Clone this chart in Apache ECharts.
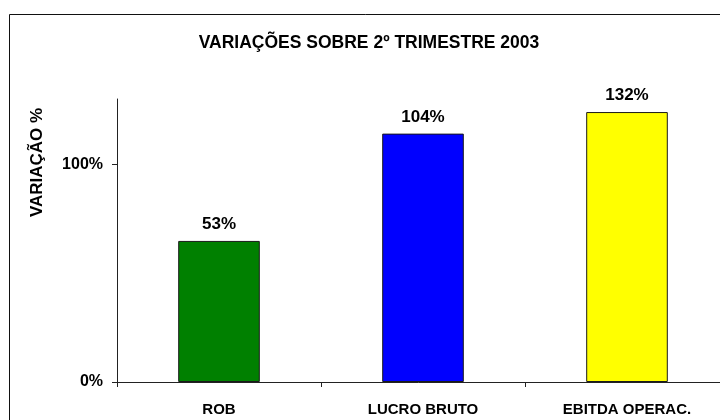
<!DOCTYPE html>
<html>
<head>
<meta charset="utf-8">
<script src="https://cdn.jsdelivr.net/npm/echarts@6/dist/echarts.min.js"></script>
<style>
  html, body { margin: 0; padding: 0; background: #fff; }
  #chart { width: 720px; height: 420px; }
</style>
</head>
<body>
<div id="chart"></div>
<script>
// dados
const categorias = ['ROB', 'LUCRO BRUTO', 'EBITDA OPERAC.'];
const valores = [64.8, 114.1, 124.0];
const rotulos = ['53%', '104%', '132%'];
const cores = ['#008000', '#0000FF', '#FFFF00'];
const ticksY = [0, 100];

const fonte = '"Liberation Sans", Arial, sans-serif';

const chart = echarts.init(document.getElementById('chart'));

chart.setOption({
    animation: false,
    backgroundColor: '#fff',
    title: {
        text: 'VARIAÇÕES SOBRE 2º TRIMESTRE 2003',
        left: 364,
        textAlign: 'center',
        top: 29,
        textStyle: { fontFamily: fonte, fontWeight: 'bold', fontSize: 17.5, color: '#000' }
    },
    graphic: [
        {
            // moldura do gráfico
            type: 'rect',
            shape: { x: 9.5, y: 14.5, width: 760, height: 460 },
            style: { fill: 'none', stroke: '#111', lineWidth: 1 },
            z: -1
        },
        {
            type: 'text',
            x: 37.5,
            y: 162.5,
            rotation: Math.PI / 2,
            style: {
                text: 'VARIAÇÃO %',
                font: 'bold 17px ' + fonte,
                fill: '#000',
                textAlign: 'center',
                textVerticalAlign: 'middle'
            }
        }
    ],
    // a área do gráfico passa um pouco da borda direita
    grid: {
        left: 117, width: 612, top: 99, bottom: 38,
        containLabel: false, outerBoundsMode: 'none'
    },
    xAxis: {
        type: 'category',
        data: categorias,
        axisLine: { lineStyle: { color: '#222', width: 1 } },
        axisTick: { show: true, length: 5, lineStyle: { color: '#222' } },
        axisLabel: {
            margin: 20,
            fontFamily: fonte, fontWeight: 'bold', fontSize: 15, color: '#000'
        }
    },
    yAxis: {
        type: 'value',
        min: 0,
        max: 130,
        interval: 100,
        splitLine: { show: false },
        axisLine: { show: true, lineStyle: { color: '#222', width: 1 } },
        axisTick: { show: true, length: 5, customValues: ticksY, lineStyle: { color: '#222' } },
        axisLabel: {
            customValues: ticksY,
            margin: 14,
            formatter: v => v + '%',
            fontFamily: fonte, fontWeight: 'bold', fontSize: 16, color: '#000'
        }
    },
    series: [{
        type: 'bar',
        barWidth: '40%',
        data: valores.map((v, i) => ({
            value: v,
            itemStyle: { color: cores[i], borderColor: '#1a1a1a', borderWidth: 1 }
        })),
        label: {
            show: true,
            position: 'top',
            distance: 8,
            formatter: p => rotulos[p.dataIndex],
            fontFamily: fonte, fontWeight: 'bold', fontSize: 17, color: '#000'
        }
    }]
});
</script>
</body>
</html>
